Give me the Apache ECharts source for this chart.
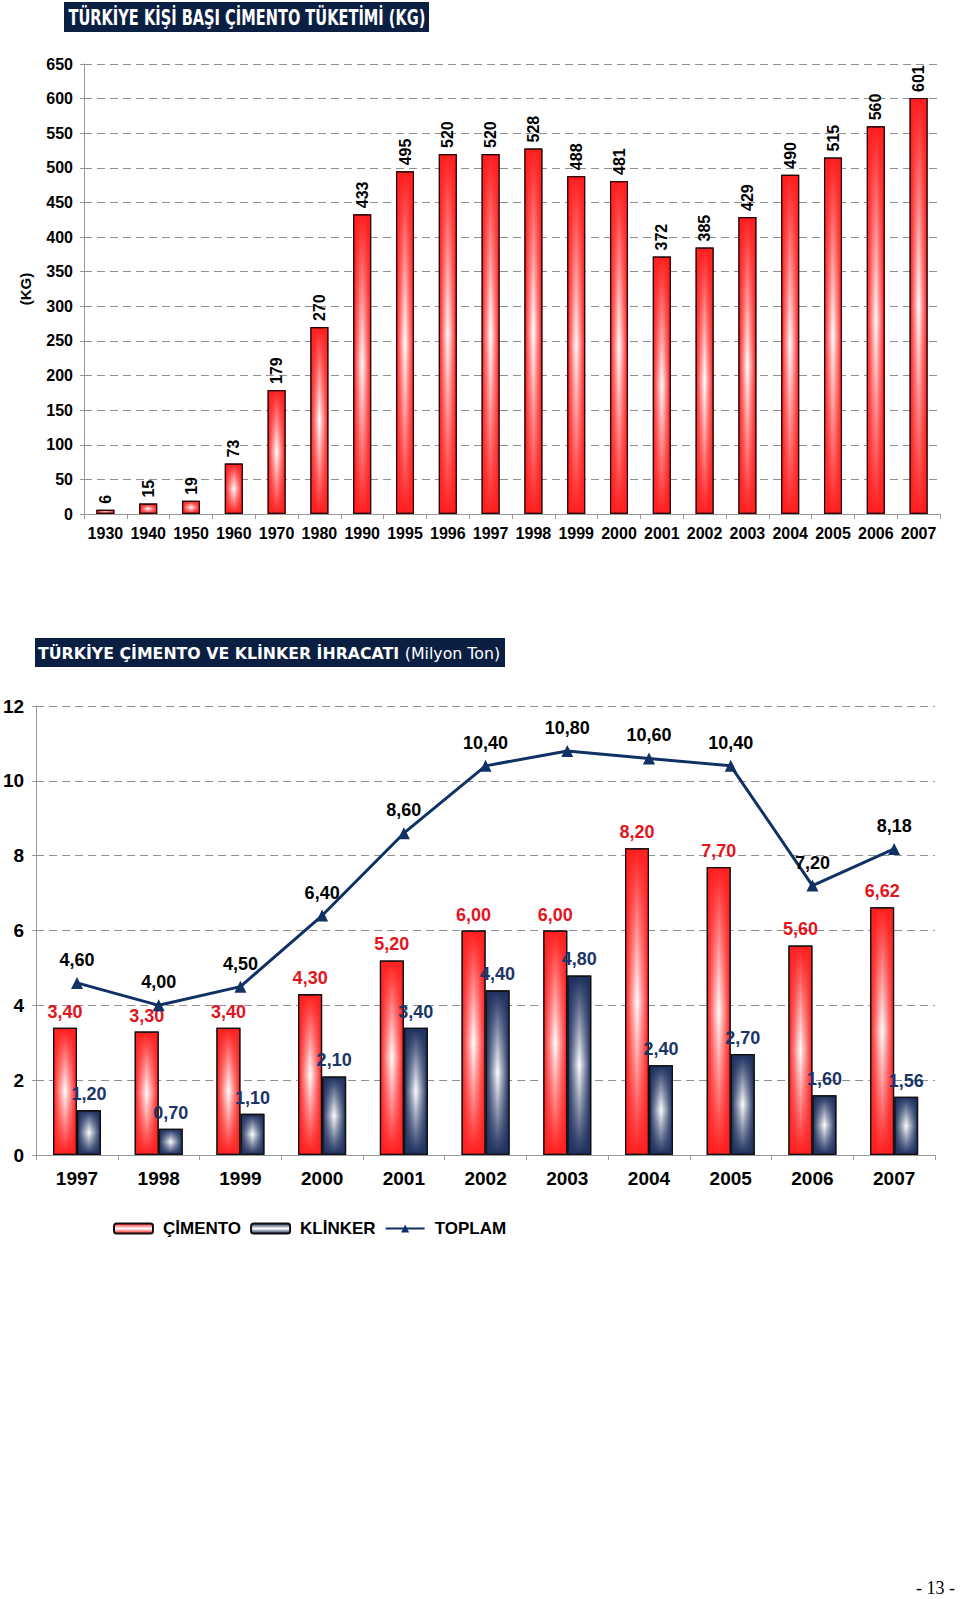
<!DOCTYPE html>
<html><head><meta charset="utf-8">
<script src="https://cdn.jsdelivr.net/npm/echarts@6/dist/echarts.min.js"></script>
<style>html,body{margin:0;padding:0;background:#fff}#c{width:960px;height:1599px}</style>
</head><body><div id="c"></div>
<script>
// ---- Chart 1: per-capita cement consumption (kg)
const years1 = ['1930','1940','1950','1960','1970','1980','1990','1995','1996','1997','1998','1999','2000','2001','2002','2003','2004','2005','2006','2007'];
const perCapita = [6,15,19,73,179,270,433,495,520,520,528,488,481,372,385,429,490,515,560,601];
const title1 = 'TÜRKİYE KİŞİ BAŞI ÇİMENTO TÜKETİMİ (KG)';
const axisName1 = '(KG)';

// ---- Chart 2: cement & clinker exports (million tons)
const years2 = ['1997','1998','1999','2000','2001','2002','2003','2004','2005','2006','2007'];
const cimento = [3.40,3.30,3.40,4.30,5.20,6.00,6.00,8.20,7.70,5.60,6.62];
const klinker = [1.20,0.70,1.10,2.10,3.40,4.40,4.80,2.40,2.70,1.60,1.56];
const toplam  = [4.60,4.00,4.50,6.40,8.60,10.40,10.80,10.60,10.40,7.20,8.18];
const title2Bold = 'TÜRKİYE ÇİMENTO VE KLİNKER İHRACATI';
const title2Rest = '(Milyon Ton)';
const seriesNames2 = ['ÇİMENTO','KLİNKER','TOPLAM'];
const pageLabel = '- 13 -';

const AX = 'Liberation Sans';
const RED = '#ff1e1e', NAVY = '#1d2f5e', LINE = '#0f3163', LBLRED = '#e3141c', LBLNAVY = '#1b3567';
const NAVYBOX = '#0b1f42';

function measure(text, font){
  const ctx = document.createElement('canvas').getContext('2d');
  ctx.font = font; return ctx.measureText(text).width;
}
const LG = echarts.graphic.LinearGradient;
const vGrad = c => new LG(0,0,0,1,[{offset:0,color:c},{offset:0.5,color:'#ffffff'},{offset:1,color:c}]);
const hOver = (c0,c1) => new LG(0,0,1,0,[{offset:0,color:c0},{offset:0.5,color:c1},{offset:1,color:c0}]);
const fmt = v => v.toFixed(2).replace('.', ',');

const t1Font = 'bold 21px "DejaVu Sans"';
const t1Scale = 357 / measure(title1, t1Font);
const t2bFont = 'bold 16px "DejaVu Sans"', t2nFont = 'normal 16px "DejaVu Sans"';
const t2w = measure(title2Bold + ' ', t2bFont) + measure(title2Rest, t2nFont);
const t2Scale = 462 / t2w;

const chart = echarts.init(document.getElementById('c'), null, {renderer:'svg', width:960, height:1599});

const gridLine = {show:true, lineStyle:{color:'#8f8f8f', type:[8,5], width:1}};
const axLine = {show:true, lineStyle:{color:'#9a9a9a', width:1}};

chart.setOption({
  animation:false,
  backgroundColor:'#fff',
  graphic:[
    {type:'rect', shape:{x:64,y:2,width:365,height:30}, style:{fill:NAVYBOX}},
    {type:'text', x:247, y:17.5, scaleX:t1Scale, style:{x:0,y:0,text:title1, font:t1Font, fill:'#fff', align:'center', verticalAlign:'middle'}},
    {type:'rect', shape:{x:35,y:638,width:470,height:29}, style:{fill:NAVYBOX}},
    {type:'text', x:269, y:653, scaleX:t2Scale, style:{x:0,y:0,text:'{b|'+title2Bold+' }{n|'+title2Rest+'}', align:'center', verticalAlign:'middle',
      rich:{b:{font:t2bFont, fill:'#fff', color:'#fff'}, n:{font:t2nFont, fill:'#fff', color:'#fff'}}}},
    {type:'text', x:955, y:1588, style:{text:pageLabel, font:'18px "Liberation Serif"', fill:'#000', align:'right', verticalAlign:'middle'}}
  ],
  grid:[
    {left:84, right:20, top:64, height:450},
    {left:35, right:25, top:706, height:449}
  ],
  legend:{
    data:seriesNames2, left:113, top:1220, padding:0, itemWidth:39, itemHeight:10, itemGap:9,
    textStyle:{fontFamily:AX, fontWeight:'bold', fontSize:17, color:'#000', padding:[0,0,0,5]}
  },
  xAxis:[
    {gridIndex:0, type:'category', data:years1, axisLine:axLine, axisTick:{show:true,length:5,lineStyle:{color:'#9a9a9a'}},
     axisLabel:{interval:0, margin:11, fontFamily:AX, fontWeight:'bold', fontSize:16, color:'#000'}},
    {gridIndex:0, type:'category', data:years1, show:false},
    {gridIndex:1, type:'category', data:years2, axisLine:axLine, axisTick:{show:true,length:5,lineStyle:{color:'#9a9a9a'}},
     axisLabel:{interval:0, margin:14, fontFamily:AX, fontWeight:'bold', fontSize:19, color:'#000'}},
    {gridIndex:1, type:'category', data:years2, show:false}
  ],
  yAxis:[
    {gridIndex:0, type:'value', min:0, max:650, interval:50, splitLine:gridLine, axisLine:axLine,
     axisTick:{show:true,length:4,lineStyle:{color:'#9a9a9a'}},
     axisLabel:{margin:11, fontFamily:AX, fontWeight:'bold', fontSize:16, color:'#000'},
     name:axisName1, nameLocation:'middle', nameGap:51, nameRotate:90,
     nameTextStyle:{fontFamily:AX, fontWeight:'bold', fontSize:15, color:'#000'}},
    {gridIndex:1, type:'value', min:0, max:12, interval:2, splitLine:gridLine, axisLine:axLine,
     axisTick:{show:true,length:4,lineStyle:{color:'#9a9a9a'}},
     axisLabel:{margin:12, fontFamily:AX, fontWeight:'bold', fontSize:19, color:'#000'}}
  ],
  series:[
    {name:'TÜKETİM', type:'bar', xAxisIndex:0, yAxisIndex:0, data:perCapita, barWidth:18,
     itemStyle:{color:vGrad(RED), borderColor:'#2a0505', borderWidth:1.2}},
    {name:'TÜKETİM ', type:'bar', xAxisIndex:1, yAxisIndex:0, data:perCapita, barWidth:18, silent:true,
     itemStyle:{color:hOver('rgba(255,30,30,1)','rgba(255,30,30,0)'), borderColor:'#2a0505', borderWidth:1.2},
     label:{show:true, position:'top', rotate:90, align:'left', verticalAlign:'middle', distance:6,
       fontFamily:AX, fontWeight:'bold', fontSize:16, color:'#000'}},

    {name:'ÇİMENTO', type:'bar', xAxisIndex:2, yAxisIndex:1, data:cimento, barWidth:24, barGap:'0%',
     itemStyle:{color:vGrad(RED), borderColor:'#111', borderWidth:1.3}},
    {name:'KLİNKER', type:'bar', xAxisIndex:2, yAxisIndex:1, data:klinker, barWidth:24, barGap:'0%',
     itemStyle:{color:vGrad(NAVY), borderColor:'#111', borderWidth:1.3}},
    {name:'ÇİMENTO', type:'bar', xAxisIndex:3, yAxisIndex:1, data:cimento, barWidth:24, barGap:'0%', silent:true,
     itemStyle:{color:hOver('rgba(255,30,30,1)','rgba(255,30,30,0)'), borderColor:'#111', borderWidth:1.3},
     label:{show:true, position:'top', distance:7, formatter:p=>fmt(p.value),
       fontFamily:AX, fontWeight:'bold', fontSize:18, color:LBLRED}},
    {name:'KLİNKER', type:'bar', xAxisIndex:3, yAxisIndex:1, data:klinker, barWidth:24, barGap:'0%', silent:true,
     itemStyle:{color:hOver('rgba(29,47,94,1)','rgba(29,47,94,0)'), borderColor:'#111', borderWidth:1.3},
     label:{show:true, position:'top', distance:7, formatter:p=>fmt(p.value),
       fontFamily:AX, fontWeight:'bold', fontSize:18, color:LBLNAVY}},
    {name:'TOPLAM', type:'line', xAxisIndex:2, yAxisIndex:1, data:toplam, z:5,
     symbol:'triangle', symbolSize:12, lineStyle:{color:LINE, width:3}, itemStyle:{color:LINE},
     label:{show:true, position:'top', distance:8, formatter:p=>fmt(p.value),
       fontFamily:AX, fontWeight:'bold', fontSize:18, color:'#000'}}
  ]
});
</script></body></html>
